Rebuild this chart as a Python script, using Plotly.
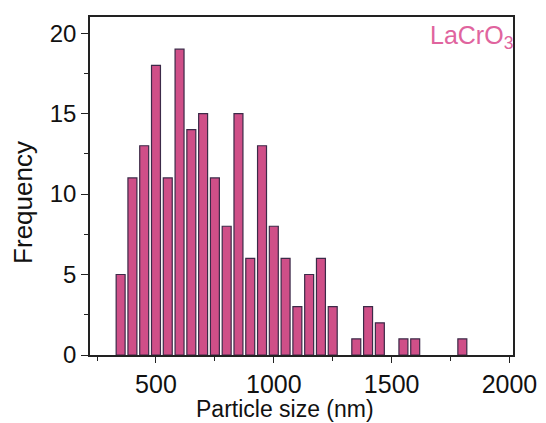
import plotly.graph_objects as go

bin_centers = [350, 400, 450, 500, 550, 600, 650, 700, 750, 800, 850, 900, 950, 1000,
               1050, 1100, 1150, 1200, 1250, 1300, 1350, 1400, 1450, 1500, 1550, 1600,
               1650, 1700, 1750, 1800]
frequency = [5, 11, 13, 18, 11, 19, 14, 15, 11, 8, 15, 6, 13, 8,
             6, 3, 5, 6, 3, 0, 1, 3, 2, 0, 1, 1,
             0, 0, 0, 1]
x_tick_vals = [500, 1000, 1500, 2000]
y_tick_vals = [0, 5, 10, 15, 20]
sample_label = "LaCrO<sub>3</sub>"
x_title = "Particle size (nm)"
y_title = "Frequency"

font = "Liberation Sans, Arial, sans-serif"

# empty bins draw nothing
shown_x = [c for c, f in zip(bin_centers, frequency) if f > 0]
shown_y = [f for f in frequency if f > 0]

fig = go.Figure(go.Bar(
    x=shown_x, y=shown_y, width=38,
    marker=dict(color="#cf4f88", line=dict(color="#3c2a48", width=1.2)),
))

# page body has an 8px margin, compensated here
fig.update_layout(
    width=538, height=415,
    margin=dict(l=82, r=33, t=7, b=68),
    paper_bgcolor="white", plot_bgcolor="white",
    showlegend=False,
    font=dict(family=font, color="#111111"),
    annotations=[
        dict(text=sample_label, x=1.0, y=1.0, xref="paper", yref="paper",
             xanchor="right", yanchor="top", showarrow=False,
             font=dict(family=font, size=25, color="#e0649e"), xshift=2, yshift=-2),
        dict(text=x_title, x=0.461, y=0, xref="paper", yref="paper",
             xanchor="center", yanchor="top", showarrow=False,
             font=dict(family=font, size=23, color="#111111"), yshift=-39),
        dict(text=y_title, x=0, y=0.45, xref="paper", yref="paper", textangle=-90,
             xanchor="center", yanchor="middle", showarrow=False,
             font=dict(family=font, size=26, color="#111111"), xshift=-67),
    ],
)
fig.update_xaxes(
    range=[220, 2015], tickvals=x_tick_vals,
    ticks="outside", ticklen=6, tickwidth=1.3, tickcolor="#222",
    minor=dict(tickvals=[250, 750, 1250, 1750], ticks="outside", ticklen=4, tickcolor="#222", tickwidth=1.2),
    showline=True, linecolor="#222", linewidth=1.5, mirror=True,
    showgrid=False, zeroline=False,
    tickfont=dict(size=25, family=font),
)
fig.update_yaxes(
    range=[0, 21], tickvals=y_tick_vals,
    ticks="outside", ticklen=7, tickwidth=1.3, tickcolor="#222",
    minor=dict(tickvals=[2.5, 7.5, 12.5, 17.5], ticks="outside", ticklen=4, tickcolor="#222", tickwidth=1.2),
    showline=True, linecolor="#222", linewidth=1.5, mirror=True,
    showgrid=False, zeroline=False,
    tickfont=dict(size=24, family=font),
)

fig.write_html("out.html")
